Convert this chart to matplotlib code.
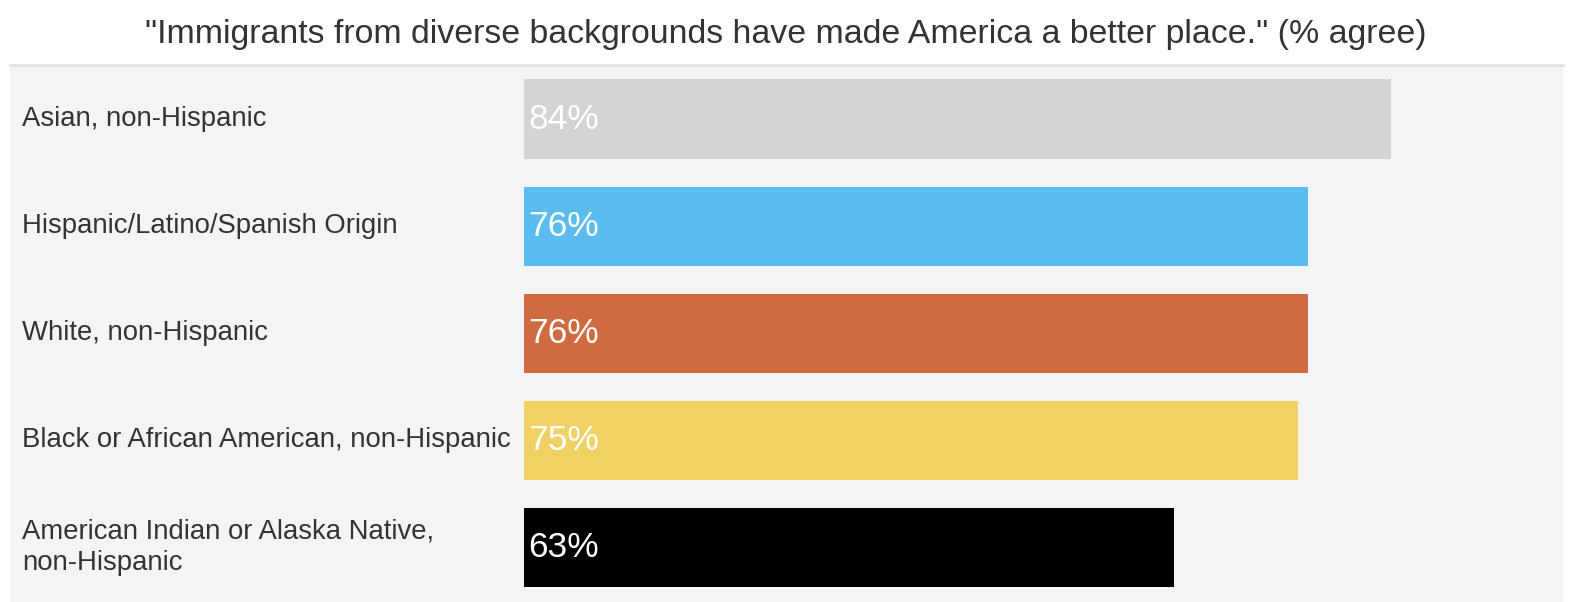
import matplotlib
matplotlib.use('Agg')
import matplotlib.pyplot as plt
from matplotlib.transforms import blended_transform_factory

plt.rcParams['font.family'] = ['Liberation Sans', 'DejaVu Sans']

groups = [
    'Asian, non-Hispanic',
    'Hispanic/Latino/Spanish Origin',
    'White, non-Hispanic',
    'Black or African American, non-Hispanic',
    'American Indian or Alaska Native,\nnon-Hispanic',
]
agree = [84, 76, 76, 75, 63]
colors = ['#d3d3d3', '#5bbcf0', '#d06a41', '#f0d264', '#000000']
title = '"Immigrants from diverse backgrounds have made America a better place." (% agree)'

W, H = 1572, 602
fig = plt.figure(figsize=(W / 100, H / 100), dpi=100)
fig.patch.set_facecolor('white')

# grey panel behind the bars, with a thin rule on top
bg = fig.add_axes([10 / W, 0, 1553 / W, 537 / H], zorder=0)
bg.set_facecolor('#f4f4f4')
bg.set_xticks([])
bg.set_yticks([])
for side in ['left', 'right', 'bottom']:
    bg.spines[side].set_visible(False)
bg.spines['top'].set_color('#e2e2e2')
bg.spines['top'].set_linewidth(2)

ax = fig.add_axes([524 / W, 1 / H, 1032 / W, 535.5 / H], zorder=1)
ax.patch.set_alpha(0)
y = list(range(len(groups)))
ax.barh(y, agree, height=0.74, color=colors)
ax.set_xlim(0, 100)
ax.set_ylim(len(groups) - 0.5, -0.5)
ax.axis('off')

lab = blended_transform_factory(fig.transFigure, ax.transData)
for i, g in enumerate(groups):
    ax.text(22 / W, i, g, transform=lab, ha='left', va='center',
            fontsize=19.8, color='#333333', linespacing=1.3)
    ax.text(0.4, i, f'{agree[i]}%', ha='left', va='center',
            fontsize=25.5, color='white')

fig.text(0.5, 1 - 34 / H, title, ha='center', va='center', fontsize=24.4, color='#333333')

fig.savefig('out.png', dpi=100)
